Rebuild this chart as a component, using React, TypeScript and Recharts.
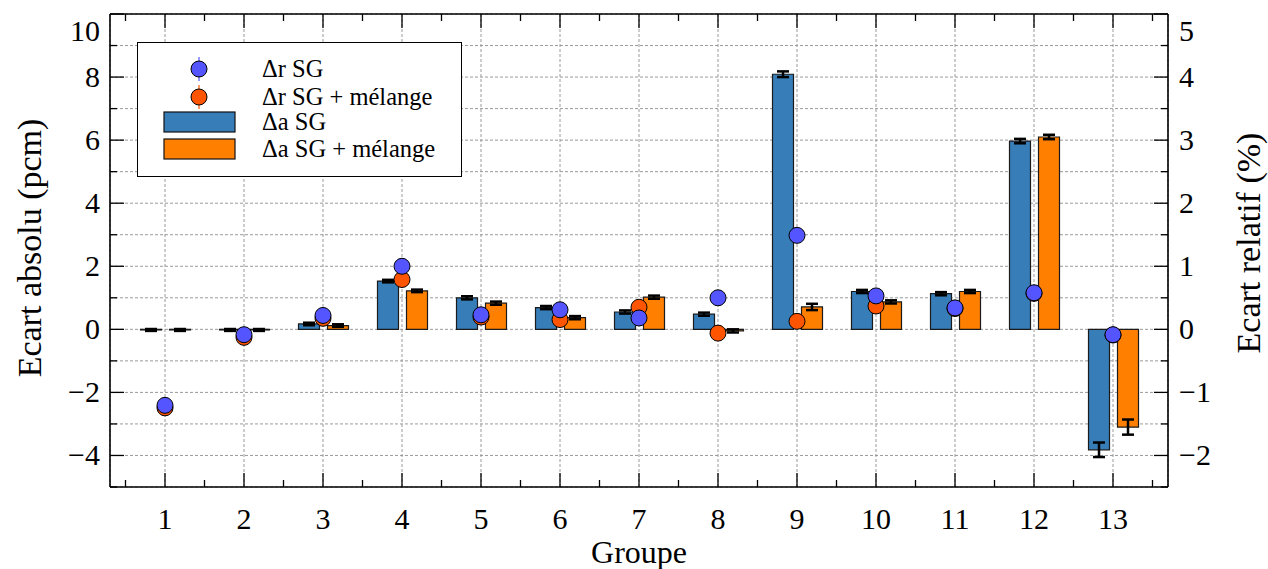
import React from 'react';
import {
  ComposedChart,
  Bar,
  Scatter,
  XAxis,
  YAxis,
  CartesianGrid,
  ErrorBar,
  Legend,
} from 'recharts';

// Groups along the x axis
const groups = [1, 2, 3, 4, 5, 6, 7, 8, 9, 10, 11, 12, 13];

// Absolute deviation (pcm), left axis
const absSG = [-0.02, -0.02, 0.17, 1.53, 1.0, 0.69, 0.55, 0.48, 8.09, 1.2, 1.13, 5.97, -3.82];
const absSGErr = [0.03, 0.03, 0.04, 0.04, 0.05, 0.05, 0.05, 0.05, 0.09, 0.05, 0.05, 0.07, 0.23];
const absMix = [-0.02, -0.02, 0.12, 1.22, 0.83, 0.37, 1.02, -0.05, 0.71, 0.87, 1.2, 6.1, -3.1];
const absMixErr = [0.03, 0.03, 0.04, 0.04, 0.05, 0.05, 0.05, 0.05, 0.1, 0.05, 0.05, 0.07, 0.24];

// Relative deviation (%), right axis
const relSG = [-1.205, -0.085, 0.22, 1.0, 0.23, 0.31, 0.18, 0.5, 1.49, 0.53, 0.34, 0.58, -0.085];
const relMix = [-1.245, -0.127, 0.175, 0.79, 0.195, 0.155, 0.35, -0.06, 0.127, 0.37, 0.33, 0.57, -0.09];

// Axis ticks
const leftTicks = [-5, -4, -3, -2, -1, 0, 1, 2, 3, 4, 5, 6, 7, 8, 9, 10];
const rightTicks = [-2.5, -2, -1.5, -1, -0.5, 0, 0.5, 1, 1.5, 2, 2.5, 3, 3.5, 4, 4.5, 5];

const legendLabels = ['\u0394r SG', '\u0394r SG + mélange', '\u0394a SG', '\u0394a SG + mélange'];

const data = groups.map((g, i) => ({
  g,
  aSG: absSG[i],
  aSGErr: absSGErr[i],
  aMix: absMix[i],
  aMixErr: absMixErr[i],
  rSG: relSG[i],
  rMix: relMix[i],
}));

const W = 1268;
const H = 569;
const M_LEFT = 110;
const M_RIGHT = 100;
const M_TOP = 14;
const M_BOTTOM = 82;
const PAD = 15.5;
const PLOT_W = W - M_LEFT - M_RIGHT;
const STEP = (PLOT_W - 2 * PAD) / groups.length;

const FONT = '"Liberation Serif", "Times New Roman", serif';
const C_BLUE_BAR = '#377eb8';
const C_ORANGE_BAR = '#ff7f00';
const C_BLUE_PT = '#5555ff';
const C_ORANGE_PT = '#ff5500';
const MAJOR = 14;
const MINOR = 7;

const fmt = (v: number) => (v < 0 ? '\u2212' + Math.abs(v) : String(v));

const LeftTick = (props: any) => {
  const { x, y, payload } = props;
  const v = payload.value as number;
  const major = v % 2 === 0;
  return (
    <g>
      <line x1={x} y1={y} x2={x + (major ? MAJOR : MINOR)} y2={y} stroke="#000" strokeWidth={1.3} />
      {major && (
        <text x={x - 10} y={y + 10 + (v === 10 ? 17 : 0)} textAnchor="end" fontSize={30} fontFamily={FONT} fill="#000">
          {fmt(v)}
        </text>
      )}
    </g>
  );
};

const RightTick = (props: any) => {
  const { x, y, payload } = props;
  const v = payload.value as number;
  const major = Number.isInteger(v);
  return (
    <g>
      <line x1={x} y1={y} x2={x - (major ? MAJOR : MINOR)} y2={y} stroke="#000" strokeWidth={1.3} />
      {major && (
        <text x={x + 11} y={y + 10 + (v === 5 ? 17 : 0)} textAnchor="start" fontSize={30} fontFamily={FONT} fill="#000">
          {fmt(v)}
        </text>
      )}
    </g>
  );
};

const BottomTick = (props: any) => {
  const { x, y, payload, index } = props;
  const last = index === groups.length - 1;
  return (
    <g>
      <line x1={x} y1={y} x2={x} y2={y - MAJOR} stroke="#000" strokeWidth={1.3} />
      <line x1={x - STEP / 2} y1={y} x2={x - STEP / 2} y2={y - MINOR} stroke="#000" strokeWidth={1.3} />
      {last && <line x1={x + STEP / 2} y1={y} x2={x + STEP / 2} y2={y - MINOR} stroke="#000" strokeWidth={1.3} />}
      <text x={x} y={y + 42} textAnchor="middle" fontSize={30} fontFamily={FONT} fill="#000">
        {payload.value}
      </text>
    </g>
  );
};

const TopTick = (props: any) => {
  const { x, y, index } = props;
  const last = index === groups.length - 1;
  return (
    <g>
      <line x1={x} y1={y} x2={x} y2={y + MAJOR} stroke="#000" strokeWidth={1.3} />
      <line x1={x - STEP / 2} y1={y} x2={x - STEP / 2} y2={y + MINOR} stroke="#000" strokeWidth={1.3} />
      {last && <line x1={x + STEP / 2} y1={y} x2={x + STEP / 2} y2={y + MINOR} stroke="#000" strokeWidth={1.3} />}
    </g>
  );
};

const Dot = (color: string) => (props: any) => {
  const { cx, cy } = props;
  if (cx == null || cy == null) return <g />;
  return <circle cx={cx} cy={cy} r={8} fill={color} stroke="#000" strokeWidth={1} />;
};

const BottomTitle = (props: any) => {
  const { viewBox } = props;
  return (
    <text x={viewBox.x + viewBox.width / 2} y={viewBox.y + 76} textAnchor="middle" fontSize={32} fontFamily={FONT} fill="#000">
      Groupe
    </text>
  );
};

const LeftTitle = () => (
  <text x={41} y={248} transform="rotate(-90 41 248)" textAnchor="middle" fontSize={34} fontFamily={FONT} fill="#000">
    Ecart absolu (pcm)
  </text>
);

const RightTitle = () => (
  <text x={1260} y={243} transform="rotate(-90 1260 243)" textAnchor="middle" fontSize={34} fontFamily={FONT} fill="#000">
    Ecart relatif (%)
  </text>
);

const LegendBox = () => {
  const rowY = [27, 55, 80, 107];
  const swatch = (color: string, cy: number) => (
    <rect x={27} y={cy - 10} width={71} height={20} fill={color} stroke="#111" strokeWidth={1.2} />
  );
  const point = (color: string, lineColor: string, cy: number) => (
    <g>
      <line x1={62} y1={cy - 12} x2={62} y2={cy + 12} stroke={lineColor} strokeWidth={1.2} />
      <circle cx={62} cy={cy} r={8} fill={color} stroke="#000" strokeWidth={1} />
    </g>
  );
  return (
    <div
      style={{
        width: 325,
        height: 135,
        boxSizing: 'border-box',
        border: '1.5px solid #000',
        background: '#fff',
        position: 'relative',
      }}
    >
      <svg width={325} height={135} style={{ position: 'absolute', left: -1.5, top: -1.5 }}>
        {point(C_BLUE_PT, C_BLUE_PT, rowY[0])}
        {point(C_ORANGE_PT, C_ORANGE_PT, rowY[1])}
        {swatch(C_BLUE_BAR, rowY[2])}
        {swatch(C_ORANGE_BAR, rowY[3])}
        {legendLabels.map((t, i) => (
          <text key={t} x={125} y={rowY[i] + 8} fontSize={24.5} fontFamily={FONT} fill="#000">
            {t}
          </text>
        ))}
      </svg>
    </div>
  );
};

export default function App() {
  return (
    <div style={{ position: 'absolute', left: 0, top: 0, width: W, height: H, background: '#fff' }}>
      <ComposedChart
        width={W}
        height={H}
        data={data}
        margin={{ top: 0, right: 0, bottom: 0, left: 0 }}
        barGap={8}
        style={{ fontFamily: FONT }}
      >
        <CartesianGrid
          xAxisId="bottom"
          yAxisId="left"
          stroke="#9a9a9a"
          strokeDasharray="3 2"
          strokeWidth={1}
        />
        <XAxis
          xAxisId="bottom"
          dataKey="g"
          type="category"
          orientation="bottom"
          height={M_BOTTOM}
          padding={{ left: PAD, right: PAD }}
          interval={0}
          tickSize={0}
          tickMargin={0}
          tickLine={false}
          axisLine={{ stroke: '#000', strokeWidth: 1.6 }}
          tick={<BottomTick />}
          label={<BottomTitle />}
        />
        <XAxis
          xAxisId="top"
          dataKey="g"
          type="category"
          orientation="top"
          height={M_TOP}
          padding={{ left: PAD, right: PAD }}
          interval={0}
          tickSize={0}
          tickMargin={0}
          tickLine={false}
          axisLine={{ stroke: '#000', strokeWidth: 1.6 }}
          tick={<TopTick />}
        />
        <YAxis
          yAxisId="left"
          orientation="left"
          width={M_LEFT}
          domain={[-5, 10]}
          ticks={leftTicks}
          interval={0}
          allowDataOverflow
          tickSize={0}
          tickMargin={0}
          tickLine={false}
          axisLine={{ stroke: '#000', strokeWidth: 1.6 }}
          tick={<LeftTick />}
          label={<LeftTitle />}
        />
        <YAxis
          yAxisId="right"
          orientation="right"
          width={M_RIGHT}
          domain={[-2.5, 5]}
          ticks={rightTicks}
          interval={0}
          allowDataOverflow
          tickSize={0}
          tickMargin={0}
          tickLine={false}
          axisLine={{ stroke: '#000', strokeWidth: 1.6 }}
          tick={<RightTick />}
          label={<RightTitle />}
        />
        <Bar
          xAxisId="bottom"
          yAxisId="left"
          dataKey="aSG"
          name={legendLabels[2]}
          barSize={21}
          fill={C_BLUE_BAR}
          stroke="#1b1b1b"
          strokeWidth={1.2}
          isAnimationActive={false}
        >
          <ErrorBar dataKey="aSGErr" direction="y" width={6} stroke="#000" strokeWidth={2.5} />
        </Bar>
        <Bar
          xAxisId="bottom"
          yAxisId="left"
          dataKey="aMix"
          name={legendLabels[3]}
          barSize={21}
          fill={C_ORANGE_BAR}
          stroke="#1b1b1b"
          strokeWidth={1.2}
          isAnimationActive={false}
        >
          <ErrorBar dataKey="aMixErr" direction="y" width={6} stroke="#000" strokeWidth={2.5} />
        </Bar>
        <Scatter
          xAxisId="bottom"
          yAxisId="right"
          dataKey="rMix"
          name={legendLabels[1]}
          shape={Dot(C_ORANGE_PT)}
          isAnimationActive={false}
        />
        <Scatter
          xAxisId="bottom"
          yAxisId="right"
          dataKey="rSG"
          name={legendLabels[0]}
          shape={Dot(C_BLUE_PT)}
          isAnimationActive={false}
        />
        <Legend
          layout="vertical"
          align="center"
          verticalAlign="middle"
          wrapperStyle={{ position: 'absolute', left: 137, top: 42, width: 325, height: 135 }}
          content={() => <LegendBox />}
        />
      </ComposedChart>
    </div>
  );
}
